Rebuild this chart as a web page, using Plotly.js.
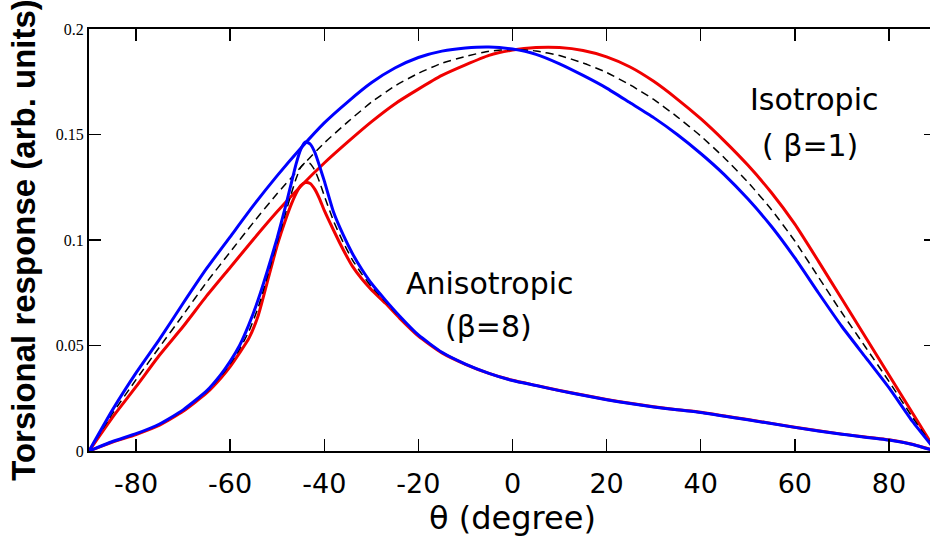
<!DOCTYPE html>
<html>
<head>
<meta charset="utf-8">
<script src="https://cdn.plot.ly/plotly-3.0.1.min.js"></script>
<style>
html,body{margin:0;padding:0;overflow:hidden;background:#fff;}
#chart{width:946px;height:541px;}
</style>
</head>
<body>
<div id="chart"></div>
<script>
// Isotropic (beta = 1) curves, theta grid in degrees
const thetaIso = [-90,-85,-80,-75,-70,-65,-60,-55,-50,-45,-40,-35,-30,-25,-20,-15,-10,-5,0,5,10,15,20,25,30,35,40,45,50,55,60,65,70,75,80,85,90];
const isoBlue  = [0,0.0195,0.037,0.053,0.070,0.0865,0.1015,0.1165,0.1305,0.1435,0.1555,0.1655,0.1745,0.1815,0.1865,0.1895,0.191,0.1915,0.1905,0.188,0.1835,0.178,0.172,0.165,0.158,0.150,0.141,0.131,0.1195,0.1065,0.0915,0.075,0.059,0.0445,0.030,0.014,0];
const isoRed   = [0,0.016,0.0305,0.0455,0.059,0.0735,0.087,0.1005,0.1135,0.1255,0.1365,0.1465,0.156,0.1645,0.1715,0.178,0.183,0.1875,0.190,0.1912,0.1912,0.1898,0.1868,0.182,0.1752,0.1668,0.1575,0.147,0.1355,0.1225,0.1075,0.090,0.072,0.054,0.036,0.018,0];
const isoBlack = [0,0.0178,0.0338,0.0493,0.0645,0.080,0.0943,0.1085,0.122,0.1345,0.146,0.156,0.1653,0.173,0.179,0.1838,0.187,0.1895,0.1903,0.1896,0.1874,0.1839,0.1794,0.1735,0.1666,0.1584,0.1493,0.139,0.1275,0.1145,0.0995,0.0825,0.0655,0.0493,0.033,0.016,0];

// Anisotropic (beta = 8) curves
const thetaAni = [-90,-85,-80,-75,-70,-65,-62,-60,-58,-56,-54,-52,-50,-48,-47,-46,-45,-44,-43,-42,-41,-40,-38,-36,-34,-32,-30,-27,-24,-20,-15,-10,-5,0,5,10,15,20,25,30,35,40,50,60,70,80,85,88,90];
const aniBlue  = [0,0.0045,0.0082,0.0128,0.0195,0.0285,0.0362,0.0425,0.050,0.060,0.072,0.086,0.101,0.118,0.127,0.136,0.143,0.1465,0.1455,0.1415,0.135,0.128,0.113,0.1025,0.0935,0.086,0.0795,0.0715,0.064,0.055,0.0468,0.0412,0.0368,0.0334,0.031,0.0286,0.0264,0.0243,0.0225,0.0209,0.0195,0.0183,0.0148,0.0112,0.0079,0.0052,0.0031,0.0012,0];
const aniRed   = [0,0.0042,0.0078,0.0122,0.0188,0.0275,0.0345,0.040,0.0465,0.0535,0.0645,0.081,0.0975,0.111,0.117,0.122,0.1258,0.1272,0.1268,0.124,0.1195,0.114,0.1045,0.0955,0.0875,0.0815,0.0765,0.070,0.063,0.0545,0.0465,0.0411,0.0368,0.0335,0.0311,0.0287,0.0265,0.0244,0.0226,0.021,0.0196,0.0184,0.0149,0.0113,0.008,0.0053,0.0032,0.0013,0];
const aniBlack = [0,0.0044,0.008,0.0125,0.0192,0.028,0.0354,0.0413,0.0483,0.0568,0.0683,0.0835,0.099,0.1145,0.122,0.129,0.1345,0.1368,0.1362,0.133,0.1275,0.121,0.1088,0.099,0.0905,0.0838,0.078,0.0708,0.0635,0.0548,0.0466,0.0411,0.0368,0.0334,0.031,0.0286,0.0264,0.0243,0.0225,0.0209,0.0195,0.0183,0.0148,0.0112,0.0079,0.0052,0.0031,0.0012,0];

const xTicks = [-80,-60,-40,-20,0,20,40,60,80];
const xTickText = ['-80','-60','-40','-20','0','20','40','60','80'];
const yTicks = [0,0.05,0.1,0.15,0.2];
const yTickText = ['0','0.05','0.1','0.15','0.2'];

const RED = 'rgb(240,0,0)', BLUE = 'rgb(0,0,255)';
const solid = c => ({color:c, width:3});
const dashed = () => ({color:'#000', width:1.5, dash:'8px,5px'});

const traces = [
  {x:thetaIso, y:isoRed, mode:'lines', line:solid(RED)},
  {x:thetaAni, y:aniRed, mode:'lines', line:solid(RED)},
  {x:thetaIso, y:isoBlack, mode:'lines', line:dashed()},
  {x:thetaAni, y:aniBlack, mode:'lines', line:dashed()},
  {x:thetaIso, y:isoBlue, mode:'lines', line:solid(BLUE)},
  {x:thetaAni, y:aniBlue, mode:'lines', line:solid(BLUE)}
];
traces.forEach(t => { t.line.shape = 'spline'; t.line.smoothing = 0.5; t.hoverinfo='skip'; });

const sans = 'DejaVu Sans, sans-serif';
const layout = {
  width:946, height:541,
  margin:{l:89, r:10, t:29, b:90},
  paper_bgcolor:'#fff', plot_bgcolor:'#fff',
  showlegend:false,
  xaxis:{
    range:[-90,90], tickvals:xTicks, ticktext:xTickText,
    ticks:'inside', ticklen:12, tickwidth:1.5, tickcolor:'#000',
    showline:true, linecolor:'#000', linewidth:2, mirror:'ticks',
    showgrid:false, zeroline:false, ticklabelstandoff:8,
    tickfont:{family:sans, size:27, color:'#000'},
    title:{text:'θ (degree)', font:{family:sans, size:32, color:'#000'}, standoff:8}
  },
  yaxis:{
    range:[0,0.2], tickvals:yTicks, ticktext:yTickText,
    ticks:'inside', ticklen:12, tickwidth:1.5, tickcolor:'#000',
    showline:true, linecolor:'#000', linewidth:2, mirror:'ticks',
    showgrid:false, zeroline:false,
    tickfont:{family:'Liberation Serif, serif', size:16, color:'#000'},
    title:{text:'<b>Torsional response (arb. units)</b>', font:{family:'Liberation Sans, Arial, sans-serif', size:33, color:'#000'}, standoff:10}
  },
  annotations:[
    {x:64.2, y:0.1664, text:'Isotropic', showarrow:false, font:{family:sans, size:30, color:'#000'}},
    {x:63.3, y:0.145, text:'( β=1)', showarrow:false, font:{family:sans, size:30, color:'#000'}},
    {x:-4.7, y:0.0796, text:'Anisotropic', showarrow:false, font:{family:sans, size:30, color:'#000'}},
    {x:-5.1, y:0.0588, text:'(β=8)', showarrow:false, font:{family:sans, size:30, color:'#000'}}
  ]
};

Plotly.newPlot('chart', traces, layout, {staticPlot:true, displayModeBar:false});
</script>
</body>
</html>
